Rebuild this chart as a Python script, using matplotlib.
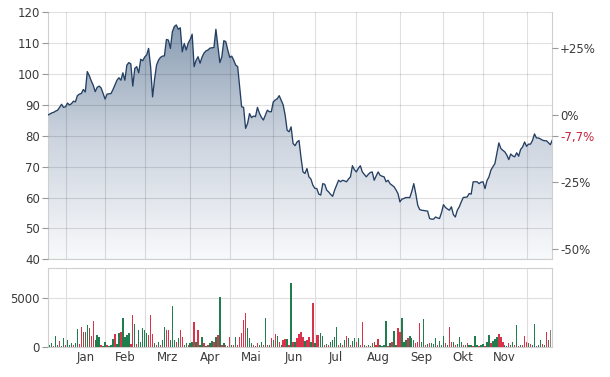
import numpy as np
import matplotlib
matplotlib.use("Agg")
import matplotlib.pyplot as plt
from matplotlib.colors import LinearSegmentedColormap

months = ["Jan", "Feb", "Mrz", "Apr", "Mai", "Jun", "Jul", "Aug", "Sep", "Okt", "Nov"]
month_start_idx = [9, 29, 49, 72, 92, 114, 135, 156, 178, 200, 220, 242]

price = [
    86.7, 87.0, 87.4, 87.6, 88.0, 88.3, 89.2, 90.2, 89.2, 89.4,
    90.6, 90.0, 90.4, 91.2, 91.0, 93.0, 93.5, 93.7, 95.0, 94.2,
    100.8, 99.5, 97.8, 96.4, 94.3, 95.7, 96.1, 95.5, 93.7, 91.9,
    93.5, 93.6, 93.7, 95.0, 96.5, 98.0, 98.8, 98.0, 100.4, 98.0,
    102.9, 103.7, 103.3, 96.1, 101.8, 102.4, 100.4, 104.8, 104.3, 105.5,
    106.2, 108.3, 102.4, 92.6, 98.3, 102.9, 104.5, 105.4, 105.8, 105.9,
    111.2, 111.0, 108.3, 113.7, 115.4, 115.9, 114.5, 115.0, 107.2, 109.9,
    107.8, 110.0, 111.2, 112.9, 102.4, 104.5, 105.6, 103.5, 105.5, 106.8,
    107.5, 107.8, 108.4, 108.5, 108.6, 114.5, 109.0, 103.7, 105.6, 110.8,
    110.5, 107.8, 105.4, 105.8, 104.5, 102.9, 102.4, 95.9, 89.4, 89.2,
    82.4, 84.0, 87.2, 85.9, 86.4, 86.2, 89.2, 87.3, 86.0, 85.1,
    86.7, 88.3, 87.8, 87.8, 91.0, 91.6, 92.0, 93.0, 91.5, 90.0,
    86.7, 81.8, 81.3, 82.9, 77.5, 76.8, 78.0, 78.5, 73.0, 68.3,
    67.8, 69.4, 66.7, 66.0, 64.0, 63.0, 62.9, 61.1, 60.8, 64.5,
    64.3, 62.4, 61.8, 61.0, 60.4, 62.4, 64.0, 65.6, 65.1, 65.6,
    65.4, 65.1, 66.0, 66.7, 70.3, 69.0, 68.3, 69.5, 70.3, 68.3,
    67.5, 66.7, 67.5, 68.1, 68.3, 65.6, 67.0, 68.3, 67.2, 66.9,
    66.7, 65.1, 65.6, 64.5, 64.0, 63.5, 62.5, 61.3, 58.6, 59.5,
    59.7, 60.0, 60.0, 60.0, 62.0, 64.5, 61.3, 57.5, 56.1, 55.9,
    55.8, 55.7, 55.6, 53.2, 53.0, 53.0, 53.7, 53.4, 53.2, 55.1,
    57.7, 56.8, 56.3, 55.9, 57.0, 54.5, 53.7, 55.9, 57.0, 58.6,
    60.0, 60.1, 60.2, 61.3, 61.1, 65.1, 65.1, 65.1, 64.5, 65.0,
    65.1, 62.9, 65.5, 66.7, 68.9, 70.0, 71.0, 74.3, 77.7, 75.9,
    75.3, 74.8, 73.8, 72.3, 74.1, 73.5, 73.2, 74.5, 73.4, 75.6,
    76.4, 78.0, 76.6, 77.3, 77.3, 78.5, 80.6, 79.3, 79.3, 79.0,
    78.6, 78.4, 78.4, 77.8, 77.1, 78.6,
]

volume = [
    150, 200, 430, 150, 1100, 200, 610, 150, 950, 200,
    700, 200, 440, 200, 440, 1840, 300, 2070, 1560, 1560,
    2250, 1900, 1120, 2650, 700, 1220, 990, 200, 150, 540,
    200, 150, 200, 780, 1330, 300, 1390, 1560, 2930, 1050,
    1220, 1390, 300, 3270, 2310, 300, 1730, 540, 1900, 1730,
    1460, 1220, 3270, 1330, 370, 200, 540, 200, 700, 2070,
    1730, 1730, 700, 4210, 700, 540, 880, 1730, 1050, 200,
    370, 200, 440, 540, 2590, 540, 1730, 200, 1050, 370,
    150, 200, 370, 610, 540, 1050, 1220, 5140, 200, 370,
    200, 150, 1050, 200, 200, 990, 200, 1050, 1390, 2750,
    3500, 1900, 950, 370, 200, 150, 370, 200, 540, 200,
    2990, 200, 200, 880, 700, 1330, 1120, 540, 200, 700,
    820, 820, 200, 6530, 540, 540, 880, 1330, 1560, 1050,
    650, 700, 990, 540, 4460, 370, 1220, 1220, 1460, 1120,
    200, 310, 200, 540, 700, 990, 2070, 200, 370, 200,
    700, 1120, 880, 200, 610, 880, 540, 880, 200, 2590,
    200, 150, 200, 150, 370, 540, 200, 820, 200, 150,
    200, 2650, 150, 370, 540, 1600, 200, 1900, 1530, 2960,
    540, 700, 880, 1120, 880, 700, 370, 540, 2450, 540,
    2890, 200, 310, 370, 440, 300, 920, 200, 570, 200,
    1120, 370, 200, 2040, 540, 540, 200, 300, 1020, 540,
    200, 200, 370, 200, 200, 150, 1120, 200, 150, 200,
    310, 150, 540, 1260, 440, 580, 780, 1020, 1360, 1020,
    540, 200, 150, 370, 200, 500, 200, 2280, 150, 200,
    200, 1120, 540, 440, 300, 200, 2380, 150, 250, 680,
    300, 200, 1530, 700, 1700, 150,
]

# direction of each volume bar: g = up, r = down, b = mixed, k = unchanged
volume_dir = (
    "gggrggrggr" "gggrggrrbb" "gbrrgggrgg" "rgggrggrgg" "ggrrgrgggg"
    "grrrgrgrgg" "rrgggrgrrg" "grggrgrggr" "grggrgrgrg" "rgrgrgrrrr"
    "rgggrgrggr" "grgrgrgrgr" "rgrgrgrrrr" "grrgrgrrgg" "rgrggggrgr"
    "grgrggrgrr" "grggbbrrgg" "ggrgrggrrg" "ggrgggrrrg" "grgrgggrgg"
    "grgrrgrggg" "rgrggrggrg" "grggrgggrr" "rggrggrgrg" "rrrgrggrgg"
    "rgrbkr"
)

base_price = 86.7
change_pct = -7.7
pct_ticks = [25, 0, -25, -50]
pct_labels = ["+25%", "0%", "-25%", "-50%"]
change_label = "-7,7%"

dir_colors = {"g": "#1f7d4e", "r": "#d8334a", "b": "#7e5646", "k": "#8f7f7a"}

spine_col = "#cfcfcf"
text_col = "#3a3a3a"
fs = 8.5

fig = plt.figure(figsize=(6.10, 3.77), dpi=100)
ax = fig.add_axes([0.0782, 0.3122, 0.8272, 0.6552])
axv = fig.add_axes([0.0782, 0.0796, 0.8272, 0.2095])

n = len(price)
x = np.arange(n)
xmax = n - 1

# ---- price panel ----
ax.set_xlim(0, xmax)
ax.set_ylim(40, 120)
cmap = LinearSegmentedColormap.from_list("fill", ["#f8f9fb", "#cbd3de", "#8297ae"])
grad = np.linspace(0, 1, 256).reshape(-1, 1)
im = ax.imshow(grad, extent=[0, xmax, 40, 120], origin="lower", aspect="auto",
               cmap=cmap, zorder=1, interpolation="bilinear")
poly = ax.fill_between(x, price, 40, facecolor="none", edgecolor="none")
im.set_clip_path(poly.get_paths()[0], transform=ax.transData)
ax.plot(x, price, color="#243f63", lw=0.95, zorder=4)

ax.set_yticks(range(40, 121, 10))
ax.set_xticks(month_start_idx)
ax.set_xticklabels([])
ax.tick_params(axis="x", length=0)
ax.tick_params(axis="y", length=4, width=0.8, color="#999999", labelcolor=text_col,
               labelsize=fs, pad=1.5)
ax.grid(True, color="black", alpha=0.12, lw=0.8, zorder=2)
ax.set_axisbelow(False)
for s in ["left", "bottom", "right"]:
    ax.spines[s].set_color(spine_col)
    ax.spines[s].set_linewidth(0.8)
ax.spines["top"].set_visible(False)

ax2 = ax.twinx()
ax2.set_ylim((40 / base_price - 1) * 100, (120 / base_price - 1) * 100)
ax2.set_yticks(pct_ticks + [change_pct])
ax2.set_yticklabels(pct_labels + [change_label])
ax2.tick_params(axis="y", length=4, width=0.8, color="#999999", labelcolor=text_col,
                labelsize=fs, pad=1.5)
ax2.get_yticklabels()[-1].set_color("#c8243f")
ax2.yaxis.get_major_ticks()[-1].tick2line.set_color("#c8243f")
for s in ax2.spines.values():
    s.set_visible(False)

# ---- volume panel ----
colors = [dir_colors[c] for c in volume_dir]
axv.bar(x, volume, width=0.7, color=colors, zorder=3, linewidth=0)
axv.set_xlim(0, xmax)
axv.set_ylim(0, 8050)
axv.set_yticks([0, 5000])
axv.set_yticklabels(["0", "5000"])
axv.set_xticks(month_start_idx)
axv.set_xticklabels([])
mids = [(month_start_idx[i] + month_start_idx[i + 1]) / 2 for i in range(len(months))]
axv.set_xticks(mids, minor=True)
axv.set_xticklabels(months, minor=True)
axv.tick_params(axis="x", which="both", length=0, labelcolor=text_col, labelsize=fs, pad=3)
axv.tick_params(axis="y", length=4, width=0.8, color="#999999", labelcolor=text_col,
                labelsize=fs, pad=1.5)
axv.grid(True, which="major", color="#dedede", lw=0.8, zorder=0)
axv.set_axisbelow(True)
for s in axv.spines.values():
    s.set_color(spine_col)
    s.set_linewidth(0.8)

fig.savefig("out.png", dpi=100)
